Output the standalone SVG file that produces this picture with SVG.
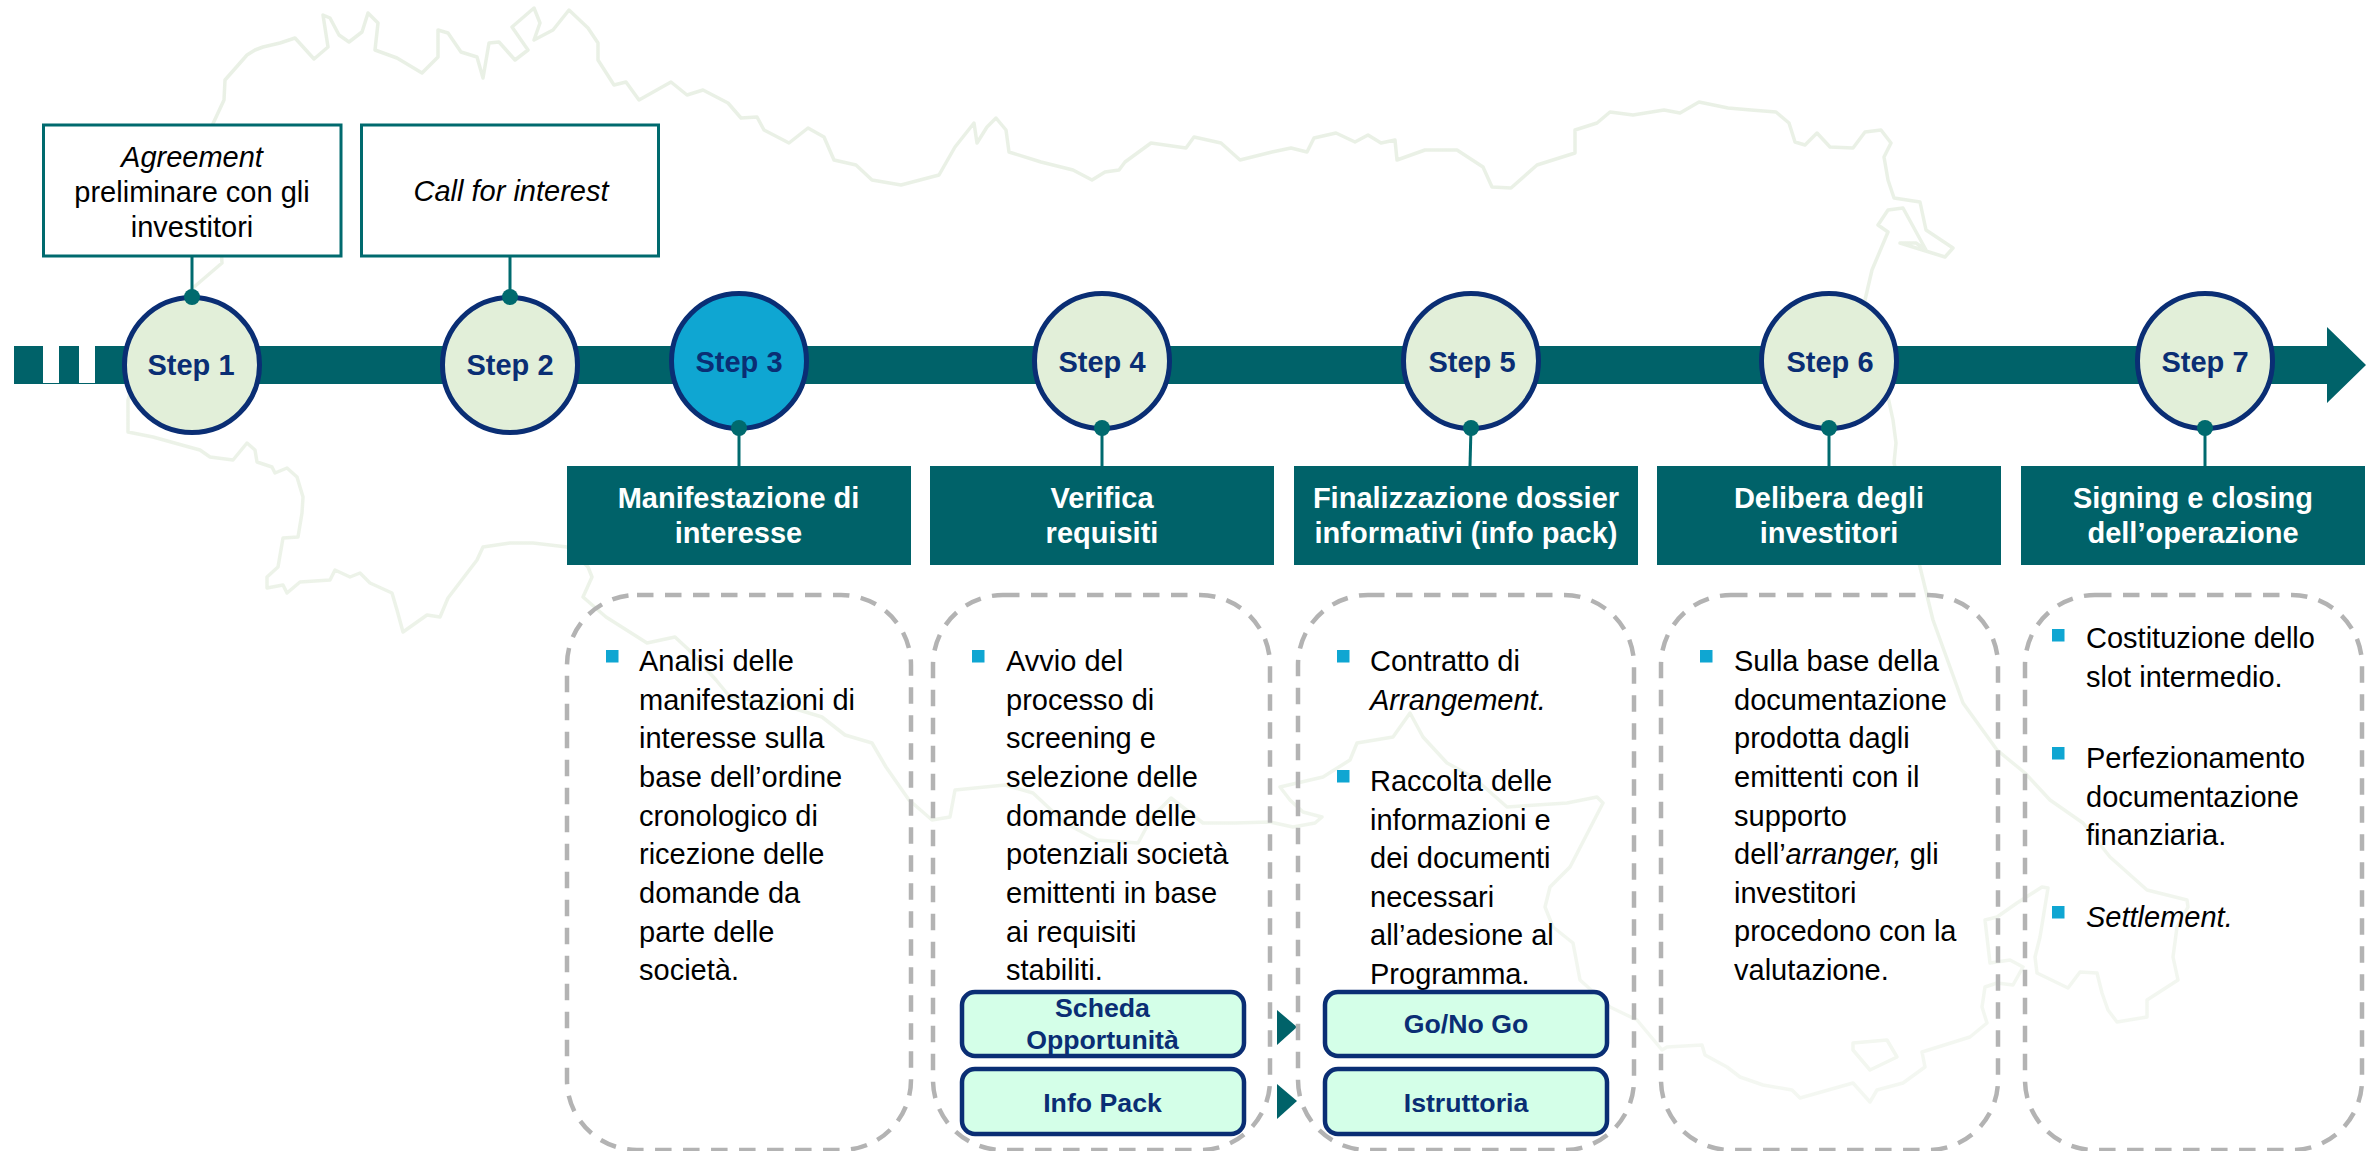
<svg xmlns="http://www.w3.org/2000/svg" width="2380" height="1151" viewBox="0 0 2380 1151">
<style>
text{font-family:"Liberation Sans",Arial,sans-serif;font-size:29px;fill:#000}
.c{text-anchor:middle}
.i{font-style:italic}
.step{font-weight:700;fill:#0a2e74;text-anchor:middle}
.hd{font-weight:700;fill:#fff;text-anchor:middle}
.sm{font-weight:700;fill:#0a2e74;text-anchor:middle;font-size:26.7px}
.circ{fill:#e2efd9;stroke:#0a2e74;stroke-width:5}
.cur{fill:#0fa6d2}
.box{fill:#fff;stroke:#006a6e;stroke-width:3}
.hdr{fill:#006269}
.dash{fill:none;stroke:#b3b3b3;stroke-width:4.5;stroke-dasharray:16.5 11.5}
.smb{fill:#d4ffe8;stroke:#0a2e74;stroke-width:4.5}
.bul{fill:#0fa6d2}
.tri{fill:#006269}
.ln{stroke:#006a6e;stroke-width:3;fill:none}
.dot{fill:#006a6e}
</style>
<defs>
<linearGradient id="mapg" gradientUnits="userSpaceOnUse" x1="0" y1="0" x2="0" y2="1151">
<stop offset="0" stop-color="#e9f0e5"/><stop offset="0.55" stop-color="#edf3e9"/><stop offset="1" stop-color="#f5f8f3"/>
</linearGradient>
<filter id="soft" x="-2%" y="-2%" width="104%" height="104%"><feGaussianBlur stdDeviation="0.7"/></filter>
</defs>
<rect width="2380" height="1151" fill="#fff"/>
<g filter="url(#soft)">
<path id="map" fill="none" stroke="url(#mapg)" stroke-width="3.5" stroke-linejoin="round" d="M225 80L247 55L255 50L263 47L280 43L295 38L314 59L328 47L323 15L330 18L339 35L349 42L362 32L368 13L378 23L375 50L397 58L422 73L438 57L438 30L448 33L461 52L477 57L483 78L489 43L499 42L515 60L528 50L512 27L534 8L540 23L534 40L553 30L569 10L588 28L598 43L598 60L614 85L626 82L639 100L671 82L687 95L703 90L728 103L741 118L757 117L764 130L789 143L808 128L824 137L834 160L856 165L872 180L901 185L939 175L955 147L974 123L977 143L987 127L996 118L1006 130L1009 152L1041 162L1073 170L1092 180L1105 172L1119 170L1125 162L1151 143L1186 148L1194 137L1221 143L1240 160L1272 152L1291 148L1307 152L1314 138L1336 133L1355 142L1368 135L1381 143L1395 140L1397 160L1425 150L1457 150L1483 167L1492 187L1511 188L1537 165L1575 153L1575 130L1597 123L1610 112L1633 115L1664 110L1680 113L1699 102L1728 108L1751 110L1776 112L1789 123L1795 142L1805 145L1817 133L1830 147L1853 148L1865 132L1881 130L1891 143L1884 157L1888 180L1894 198L1920 202L1926 230L1953 248L1945 257L1900 243L1916 243L1926 250L1903 208L1888 210L1878 225L1888 232L1872 270L1865 300L1880 360L1893 420L1896 443L1894 463L1920 567L1933 620L1963 703L1997 750L2025 773L2050 800L2083 823L2110 857L2147 890L2187 900L2188 907L2177 927L2173 957L2178 980L2147 1000L2147 1017L2117 1022L2108 1010L2102 993L2097 973L2080 972L2068 988L2037 973L2035 957L2040 937L2048 888L2042 887L2017 903L1997 917L1985 920L1990 963L2010 960L2023 967L2013 985L1997 983L1985 987L1982 1007L1987 1023L1970 1037L1922 1052L1925 1067L1903 1083L1877 1090L1870 1102L1853 1083L1800 1098L1792 1090L1763 1085L1740 1077L1727 1067L1705 1055L1702 1045L1667 1047L1662 1050L1637 1020L1610 1007L1580 980L1573 943L1553 927L1545 907L1550 887L1570 867L1603 803L1597 797L1567 803L1507 807L1473 777L1447 763L1423 737L1410 713L1393 737L1357 743L1350 760L1323 777L1280 787L1290 800L1303 812L1322 817L1315 823L1293 827L1270 822L1235 823L1203 823L1171 798L1152 817L1138 843L1097 840L1065 823L1033 793L1005 785L955 790L950 817L932 820L909 800L886 767L872 743L845 735L822 717L776 703L730 697L716 680L689 650L675 637L647 643L606 617L583 597L592 577L588 567L567 547L533 543L510 543L483 547L477 560L448 598L440 617L427 615L403 632L397 610L392 593L370 583L360 573L350 577L335 570L330 580L300 582L287 593L283 585L267 588L267 577L278 567L283 538L298 537L302 513L303 497L297 477L287 468L275 473L272 467L257 462L255 450L247 443L233 460L210 457L200 450L189 447L153 437L128 432L128 400L150 330L194 287L222 263L219 210L178 177L204 143L224 100Z"/>
<path id="map-island" fill="none" stroke="#f3f7f0" stroke-width="3.5" stroke-linejoin="round" d="M1853 1043L1887 1040L1897 1057L1870 1070L1853 1050Z"/>
</g>

<g id="timeline">
<path class="hdr" d="M14 346H2327V327L2366 365L2327 403V384H14Z"/>
<rect x="43" y="346" width="16" height="37" fill="#fff"/>
<rect x="79" y="346" width="16" height="37" fill="#fff"/>
</g>

<g id="connectors">
<path class="ln" d="M192 256V297"/>
<path class="ln" d="M510 256V297"/>
<path class="ln" d="M739 428V466"/>
<path class="ln" d="M1102 428V466"/>
<path class="ln" d="M1471 428L1470 466"/>
<path class="ln" d="M1829 428V466"/>
<path class="ln" d="M2205 428V466"/>
<polygon class="tri" points="1277,1010 1297,1027 1277,1045"/>
<polygon class="tri" points="1277,1084 1297,1101 1277,1119"/>
</g>

<g id="note-1"><rect class="box" x="43.5" y="125" width="297.5" height="131"/>
<text class="c i" x="192" y="167">Agreement</text><text class="c" x="192" y="202">preliminare con gli</text><text class="c" x="192" y="237">investitori</text></g>
<g id="note-2"><rect class="box" x="361.5" y="125" width="297" height="131"/>
<text class="c i" x="511" y="201">Call for interest</text></g>

<g id="step-1"><circle class="circ" cx="192" cy="365" r="67.5"/><circle class="dot" cx="192" cy="297" r="8"/><text class="step" x="191" y="375">Step 1</text></g>
<g id="step-2"><circle class="circ" cx="510" cy="365" r="67.5"/><circle class="dot" cx="510" cy="297" r="8"/><text class="step" x="510" y="375">Step 2</text></g>
<g id="step-3"><circle class="circ cur" cx="739" cy="361" r="67.5"/><circle class="dot" cx="739" cy="428" r="8"/><text class="step" x="739" y="372">Step 3</text></g>
<g id="step-4"><circle class="circ" cx="1102" cy="361" r="67.5"/><circle class="dot" cx="1102" cy="428" r="8"/><text class="step" x="1102" y="372">Step 4</text></g>
<g id="step-5"><circle class="circ" cx="1471" cy="361" r="67.5"/><circle class="dot" cx="1471" cy="428" r="8"/><text class="step" x="1472" y="372">Step 5</text></g>
<g id="step-6"><circle class="circ" cx="1829" cy="361" r="67.5"/><circle class="dot" cx="1829" cy="428" r="8"/><text class="step" x="1830" y="372">Step 6</text></g>
<g id="step-7"><circle class="circ" cx="2205" cy="361" r="67.5"/><circle class="dot" cx="2205" cy="428" r="8"/><text class="step" x="2205" y="372">Step 7</text></g>

<g id="header-1"><rect class="hdr" x="567" y="466" width="344" height="99"/><text class="hd" x="738.5" y="508">Manifestazione di</text><text class="hd" x="738.5" y="543">interesse</text></g>
<g id="header-2"><rect class="hdr" x="930" y="466" width="344" height="99"/><text class="hd" x="1102" y="508">Verifica</text><text class="hd" x="1102" y="543">requisiti</text></g>
<g id="header-3"><rect class="hdr" x="1294" y="466" width="344" height="99"/><text class="hd" x="1466" y="508">Finalizzazione dossier</text><text class="hd" x="1466" y="543">informativi (info pack)</text></g>
<g id="header-4"><rect class="hdr" x="1657" y="466" width="344" height="99"/><text class="hd" x="1829" y="508">Delibera degli</text><text class="hd" x="1829" y="543">investitori</text></g>
<g id="header-5"><rect class="hdr" x="2021" y="466" width="344" height="99"/><text class="hd" x="2193" y="508">Signing e closing</text><text class="hd" x="2193" y="543">dell’operazione</text></g>

<g id="panel-1"><rect class="dash" x="567" y="595" width="344" height="555" rx="70"/>
<rect class="bul" x="606" y="650" width="12.5" height="12.5"/>
<text x="639" y="671">Analisi delle</text><text x="639" y="710">manifestazioni di</text><text x="639" y="748">interesse sulla</text><text x="639" y="787">base dell’ordine</text><text x="639" y="826">cronologico di</text><text x="639" y="864">ricezione delle</text><text x="639" y="903">domande da</text><text x="639" y="942">parte delle</text><text x="639" y="980">società.</text></g>
<g id="panel-2"><rect class="dash" x="933" y="595" width="337" height="555" rx="70"/>
<rect class="bul" x="972" y="650" width="12.5" height="12.5"/>
<text x="1006" y="671">Avvio del</text><text x="1006" y="710">processo di</text><text x="1006" y="748">screening e</text><text x="1006" y="787">selezione delle</text><text x="1006" y="826">domande delle</text><text x="1006" y="864">potenziali società</text><text x="1006" y="903">emittenti in base</text><text x="1006" y="942">ai requisiti</text><text x="1006" y="980">stabiliti.</text></g>
<g id="panel-3"><rect class="dash" x="1298" y="595" width="336" height="555" rx="70"/>
<rect class="bul" x="1337" y="650" width="12.5" height="12.5"/>
<text x="1370" y="671">Contratto di</text><text class="i" x="1370" y="709.5">Arrangement.</text>
<rect class="bul" x="1337" y="770" width="12.5" height="12.5"/>
<text x="1370" y="791">Raccolta delle</text><text x="1370" y="829.5">informazioni e</text><text x="1370" y="868">dei documenti</text><text x="1370" y="907">necessari</text><text x="1370" y="945">all’adesione al</text><text x="1370" y="983.5">Programma.</text></g>
<g id="panel-4"><rect class="dash" x="1661" y="595" width="337" height="555" rx="70"/>
<rect class="bul" x="1700" y="650" width="12.5" height="12.5"/>
<text x="1734" y="671">Sulla base della</text><text x="1734" y="709.5">documentazione</text><text x="1734" y="748">prodotta dagli</text><text x="1734" y="787">emittenti con il</text><text x="1734" y="825.5">supporto</text><text x="1734" y="864">dell’<tspan class="i">arranger,</tspan> gli</text><text x="1734" y="903">investitori</text><text x="1734" y="941">procedono con la</text><text x="1734" y="979.5">valutazione.</text></g>
<g id="panel-5"><rect class="dash" x="2025" y="595" width="337" height="555" rx="70"/>
<rect class="bul" x="2052" y="629" width="12.5" height="12.5"/>
<text x="2086" y="648">Costituzione dello</text><text x="2086" y="686.5">slot intermedio.</text>
<rect class="bul" x="2052" y="747" width="12.5" height="12.5"/>
<text x="2086" y="768">Perfezionamento</text><text x="2086" y="806.5">documentazione</text><text x="2086" y="845">finanziaria.</text>
<rect class="bul" x="2052" y="906" width="12.5" height="12.5"/>
<text class="i" x="2086" y="927">Settlement.</text></g>

<g id="tag-scheda"><rect class="smb" x="962" y="992" width="282" height="64" rx="13"/><text class="sm" x="1102.5" y="1017">Scheda</text><text class="sm" x="1102.5" y="1049">Opportunità</text></g>
<g id="tag-info"><rect class="smb" x="962" y="1069" width="282" height="65" rx="13"/><text class="sm" x="1102.5" y="1112">Info Pack</text></g>
<g id="tag-gonogo"><rect class="smb" x="1325" y="992" width="282" height="64" rx="13"/><text class="sm" x="1466" y="1033">Go/No Go</text></g>
<g id="tag-istruttoria"><rect class="smb" x="1325" y="1069" width="282" height="65" rx="13"/><text class="sm" x="1466" y="1112">Istruttoria</text></g>
</svg>
